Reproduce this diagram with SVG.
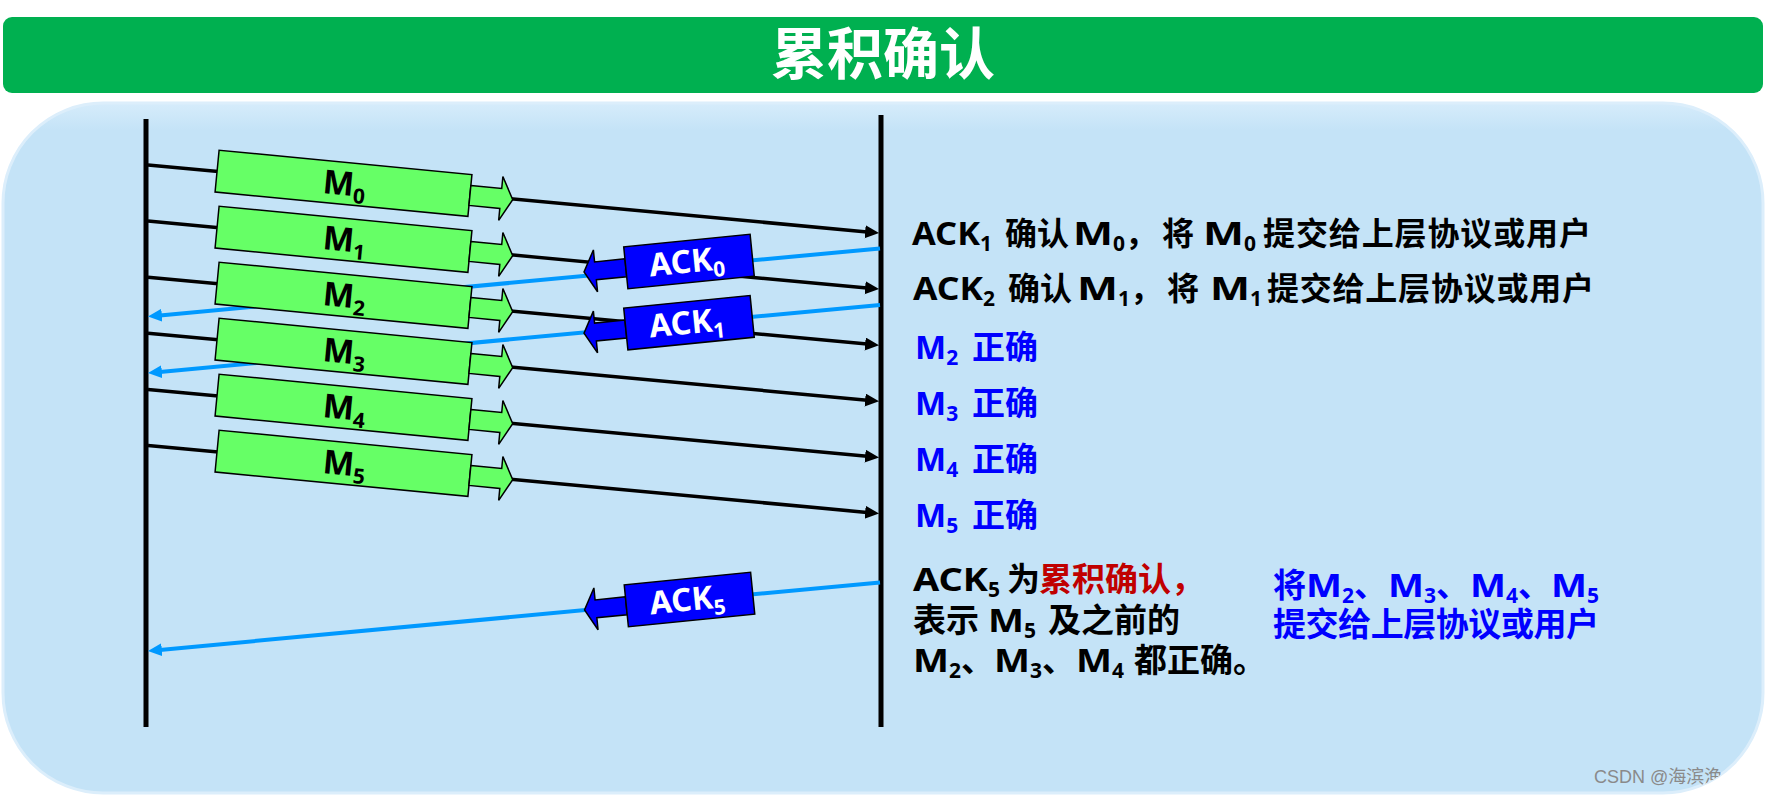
<svg xmlns="http://www.w3.org/2000/svg" width="1766" height="796" viewBox="0 0 1766 796">
<style>
.vl{stroke:#000;stroke-width:5}
.dl{stroke:#000;stroke-width:3.5;fill:none;marker-end:url(#ah)}
.al{stroke:#0099FF;stroke-width:4;fill:none;marker-end:url(#bh)}
.pk{fill:#66FF66;stroke:#000;stroke-width:1.5}
.ak{fill:#0000FF;stroke:#000;stroke-width:1.5}
.f{font-family:"Noto Sans","Noto Sans CJK SC",sans-serif;font-weight:bold}
.pt{font-size:33px;fill:#000}
.at{font-size:32px;fill:#fff}
.sb{font-size:21px}
.t1{font-size:32px;fill:#000}
.t2{font-size:33px;fill:#000}
.bl{fill:#0000FF}
.rd{fill:#C00000}
</style>
<defs>
<marker id="ah" markerUnits="userSpaceOnUse" markerWidth="16" markerHeight="14" refX="2" refY="6.5" orient="auto"><path d="M0,0 L14,6.5 L0,13 z" fill="#000"/></marker>
<marker id="bh" markerUnits="userSpaceOnUse" markerWidth="16" markerHeight="14" refX="2" refY="6.5" orient="auto"><path d="M0,0 L14,6.5 L0,13 z" fill="#0099FF"/></marker>
<linearGradient id="pg" x1="0" y1="0" x2="0" y2="1">
<stop offset="0" stop-color="#D6ECFB"/><stop offset="0.04" stop-color="#C4E3F7"/><stop offset="1" stop-color="#C4E3F7"/>
</linearGradient>
<clipPath id="pc"><rect x="3" y="103" width="1760" height="690" rx="100"/></clipPath>
<polygon id="pkshape" points="127,-10 158,-10 158,-22 170,0 158,22 158,10 127,10"/>
</defs>
<rect width="1766" height="796" fill="#fff"/>
<g id="title">
<rect x="3" y="17" width="1760" height="76" rx="9" fill="#00B050"/>
<text class="f" x="883" y="74" text-anchor="middle" font-size="56" fill="#fff">累积确认</text>
</g>
<g id="panel">
<rect x="3" y="103" width="1760" height="690" rx="100" fill="url(#pg)" stroke="#DCEEFB" stroke-width="3"/>
<text clip-path="url(#pc)" x="1594" y="783" font-family="Liberation Sans,'Noto Sans CJK SC',sans-serif" font-size="18" fill="#8a8a8a">CSDN @海滨渔</text>
</g>
<g id="sender"><line class="vl" x1="146" y1="119" x2="146" y2="727"/></g>
<g id="receiver"><line class="vl" x1="881" y1="115" x2="881" y2="727"/></g>
<g id="connectors">
<line class="dl" x1="148" y1="165" x2="867.1" y2="231.9"/>
<line class="dl" x1="148" y1="221.1" x2="867.1" y2="288"/>
<line class="dl" x1="148" y1="277.2" x2="867.1" y2="344.1"/>
<line class="dl" x1="148" y1="333.3" x2="867.1" y2="400.2"/>
<line class="dl" x1="148" y1="389.4" x2="867.1" y2="456.3"/>
<line class="dl" x1="148" y1="445.5" x2="867.1" y2="512.4"/>
<line class="al" x1="880" y1="248.5" x2="159.9" y2="315.4"/>
<line class="al" x1="880" y1="305" x2="159.9" y2="371.9"/>
<line class="al" x1="880" y1="582.5" x2="159.9" y2="649.9"/>
</g>
<g id="m0" transform="translate(343.5,183.3) rotate(5.5)"><rect class="pk" x="-127" y="-21" width="254" height="42"/><use href="#pkshape" class="pk"/><text class="f pt" x="-20.5" y="11.7">M<tspan class="sb" dy="7">0</tspan></text></g>
<g id="m1" transform="translate(343.5,239.3) rotate(5.5)"><rect class="pk" x="-127" y="-21" width="254" height="42"/><use href="#pkshape" class="pk"/><text class="f pt" x="-20.5" y="11.7">M<tspan class="sb" dy="7">1</tspan></text></g>
<g id="m2" transform="translate(343.5,295.3) rotate(5.5)"><rect class="pk" x="-127" y="-21" width="254" height="42"/><use href="#pkshape" class="pk"/><text class="f pt" x="-20.5" y="11.7">M<tspan class="sb" dy="7">2</tspan></text></g>
<g id="m3" transform="translate(343.5,351.3) rotate(5.5)"><rect class="pk" x="-127" y="-21" width="254" height="42"/><use href="#pkshape" class="pk"/><text class="f pt" x="-20.5" y="11.7">M<tspan class="sb" dy="7">3</tspan></text></g>
<g id="m4" transform="translate(343.5,407.3) rotate(5.5)"><rect class="pk" x="-127" y="-21" width="254" height="42"/><use href="#pkshape" class="pk"/><text class="f pt" x="-20.5" y="11.7">M<tspan class="sb" dy="7">4</tspan></text></g>
<g id="m5" transform="translate(343.5,463.3) rotate(5.5)"><rect class="pk" x="-127" y="-21" width="254" height="42"/><use href="#pkshape" class="pk"/><text class="f pt" x="-20.5" y="11.7">M<tspan class="sb" dy="7">5</tspan></text></g>
<g id="ack0" transform="translate(689,261.5) rotate(-5.7)"><polygon class="ak" points="-63.5,-9 -94,-9 -94,-21 -105.5,0 -94,21 -94,9 -63.5,9"/><rect class="ak" x="-63.5" y="-21" width="127" height="42"/><text class="f at" x="-40" y="11">ACK<tspan class="sb" dy="7">0</tspan></text></g>
<g id="ack1" transform="translate(689,322.7) rotate(-5.7)"><polygon class="ak" points="-63.5,-9 -94,-9 -94,-21 -105.5,0 -94,21 -94,9 -63.5,9"/><rect class="ak" x="-63.5" y="-21" width="127" height="42"/><text class="f at" x="-40" y="11">ACK<tspan class="sb" dy="7">1</tspan></text></g>
<g id="ack5" transform="translate(689.5,599.5) rotate(-5.7)"><polygon class="ak" points="-63.5,-9 -94,-9 -94,-21 -105.5,0 -94,21 -94,9 -63.5,9"/><rect class="ak" x="-63.5" y="-21" width="127" height="42"/><text class="f at" x="-40" y="11">ACK<tspan class="sb" dy="7">5</tspan></text></g>
<g id="notes">
<text class="f t1" y="245"><tspan x="912" textLength="68" lengthAdjust="spacingAndGlyphs">ACK</tspan><tspan class="sb" dy="6">1</tspan><tspan x="1005" y="245">确认</tspan><tspan x="1073" textLength="40" lengthAdjust="spacingAndGlyphs">M</tspan><tspan class="sb" dy="6">0</tspan><tspan x="1125" y="245">，</tspan><tspan x="1162">将</tspan><tspan x="1203" textLength="41" lengthAdjust="spacingAndGlyphs">M</tspan><tspan class="sb" dy="6">0</tspan><tspan x="1263" y="245" textLength="328" lengthAdjust="spacing">提交给上层协议或用户</tspan></text>
<text class="f t1" y="300"><tspan x="913" textLength="70" lengthAdjust="spacingAndGlyphs">ACK</tspan><tspan class="sb" dy="6">2</tspan><tspan x="1008" y="300">确认</tspan><tspan x="1077" textLength="41" lengthAdjust="spacingAndGlyphs">M</tspan><tspan class="sb" dy="6">1</tspan><tspan x="1130" y="300">，</tspan><tspan x="1167">将</tspan><tspan x="1210" textLength="40" lengthAdjust="spacingAndGlyphs">M</tspan><tspan class="sb" dy="6">1</tspan><tspan x="1267" y="300" textLength="327" lengthAdjust="spacing">提交给上层协议或用户</tspan></text>
<text class="f t2 bl" y="359"><tspan x="915">M</tspan><tspan class="sb" dy="6">2</tspan><tspan x="972" y="359">正确</tspan></text>
<text class="f t2 bl" y="415"><tspan x="915">M</tspan><tspan class="sb" dy="6">3</tspan><tspan x="972" y="415">正确</tspan></text>
<text class="f t2 bl" y="471"><tspan x="915">M</tspan><tspan class="sb" dy="6">4</tspan><tspan x="972" y="471">正确</tspan></text>
<text class="f t2 bl" y="527"><tspan x="915">M</tspan><tspan class="sb" dy="6">5</tspan><tspan x="972" y="527">正确</tspan></text>
<text class="f t2" y="591"><tspan x="913" textLength="75" lengthAdjust="spacingAndGlyphs">ACK</tspan><tspan class="sb" dy="6">5</tspan><tspan x="1007" y="591">为</tspan><tspan class="rd" x="1039">累积确认，</tspan></text>
<text class="f t2" y="632"><tspan x="913">表示</tspan><tspan x="988" textLength="36" lengthAdjust="spacingAndGlyphs">M</tspan><tspan class="sb" dy="6">5</tspan><tspan x="1048" y="632">及之前的</tspan></text>
<text class="f t2" y="672"><tspan x="913" textLength="36" lengthAdjust="spacingAndGlyphs">M</tspan><tspan class="sb" dy="6">2</tspan><tspan dy="-6">、</tspan><tspan x="994" textLength="36" lengthAdjust="spacingAndGlyphs">M</tspan><tspan class="sb" dy="6">3</tspan><tspan dy="-6">、</tspan><tspan x="1076" textLength="36" lengthAdjust="spacingAndGlyphs">M</tspan><tspan class="sb" dy="6">4</tspan><tspan x="1134" y="672">都正确。</tspan></text>
<text class="f t2 bl" y="597"><tspan x="1273">将</tspan><tspan x="1306" textLength="36" lengthAdjust="spacingAndGlyphs">M</tspan><tspan class="sb" dy="6">2</tspan><tspan dy="-6">、</tspan><tspan x="1388" textLength="36" lengthAdjust="spacingAndGlyphs">M</tspan><tspan class="sb" dy="6">3</tspan><tspan dy="-6">、</tspan><tspan x="1470" textLength="36" lengthAdjust="spacingAndGlyphs">M</tspan><tspan class="sb" dy="6">4</tspan><tspan dy="-6">、</tspan><tspan x="1551" textLength="36" lengthAdjust="spacingAndGlyphs">M</tspan><tspan class="sb" dy="6">5</tspan></text>
<text class="f t2 bl" x="1273" y="636" textLength="326" lengthAdjust="spacing">提交给上层协议或用户</text>
</g>
</svg>
